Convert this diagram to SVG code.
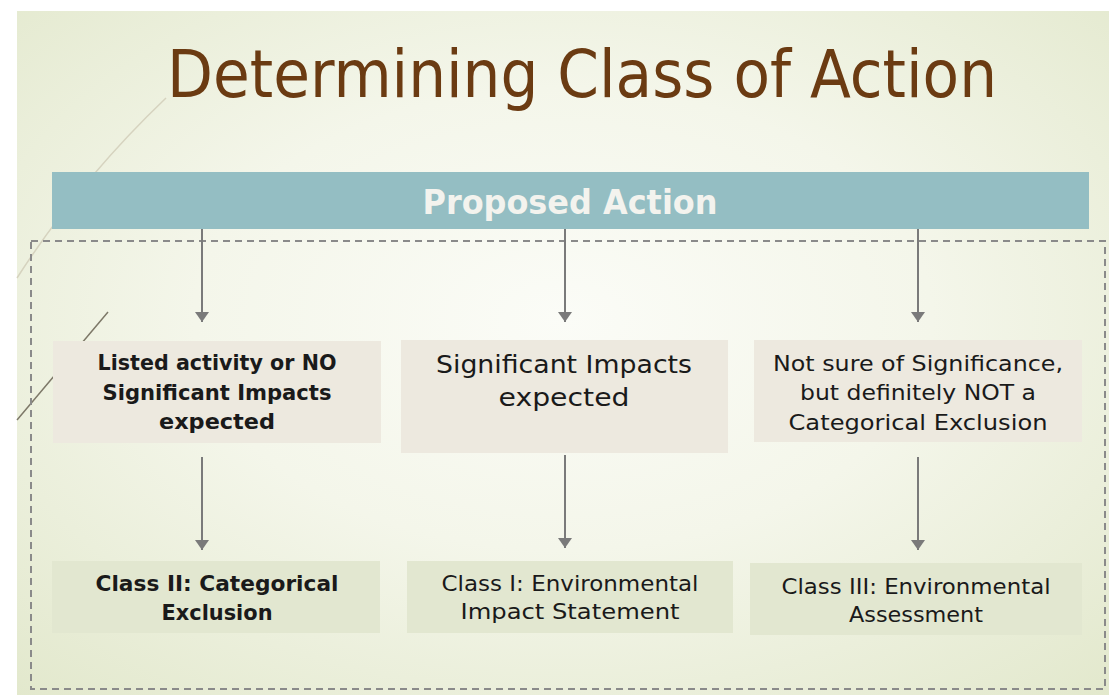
<svg xmlns="http://www.w3.org/2000/svg" width="1109" height="695" viewBox="0 0 1109 695">
  <defs>
    <radialGradient id="bg" cx="0.5" cy="0.45" r="0.75">
      <stop offset="0" stop-color="#fbfcf7"/>
      <stop offset="0.45" stop-color="#f4f6ea"/>
      <stop offset="1" stop-color="#e2e8cc"/>
    </radialGradient>
    <marker id="ah" viewBox="0 0 14 10" refX="7" refY="10" markerWidth="14" markerHeight="10" markerUnits="userSpaceOnUse" orient="auto-start-reverse">
      <path d="M0,0 L14,0 L7,10 Z" fill="#7a7a7a"/>
    </marker>
    <marker id="ad" viewBox="0 0 10 14" refX="10" refY="7" markerWidth="10" markerHeight="14" markerUnits="userSpaceOnUse" orient="auto">
      <path d="M0,0 L10,7 L0,14 Z" fill="#7a7a7a"/>
    </marker>
  </defs>
  <style>
    .t { font-family: "DejaVu Sans", "Liberation Sans", sans-serif; fill: #1a1a1a; text-anchor: middle; }
    .b { font-weight: bold; }
    .mid { fill: #ede9df; }
    .end { fill: #e2e7d0; }
    .conn line { stroke: #7a7a7a; stroke-width: 2; marker-end: url(#ad); }
  </style>
  <rect x="0" y="0" width="1109" height="695" fill="#ffffff"/>
  <rect x="17" y="11" width="1092" height="684" fill="url(#bg)"/>
  <!-- decorative lines -->
  <path d="M166,98 Q80,180 17,278" fill="none" stroke="#d6d3bf" stroke-width="1.5"/>
  <line x1="108" y1="312" x2="17" y2="420" stroke="#7d7868" stroke-width="1.5"/>

  <text x="582" y="97" font-family="DejaVu Sans, Liberation Sans, sans-serif" font-size="66" fill="#6b3b12" text-anchor="middle" textLength="830" lengthAdjust="spacingAndGlyphs">Determining Class of Action</text>

  <rect x="31" y="241" width="1074" height="448" fill="none" stroke="#8a8a8a" stroke-width="2" stroke-dasharray="7,5"/>

  <g id="proposed">
    <rect x="52" y="172" width="1037" height="57" fill="#94bec3"/>
    <text class="t b" x="570" y="214" font-size="33" fill="#f3f3ee" style="fill:#f3f3ee" textLength="295" lengthAdjust="spacingAndGlyphs">Proposed Action</text>
  </g>

  <g id="listed">
    <rect class="mid" x="53" y="341" width="328" height="102"/>
    <text class="t b" font-size="22"><tspan x="217" y="370" textLength="239" lengthAdjust="spacingAndGlyphs">Listed activity or NO</tspan><tspan x="217" y="400" textLength="229" lengthAdjust="spacingAndGlyphs">Significant Impacts</tspan><tspan x="217" y="429" textLength="116" lengthAdjust="spacingAndGlyphs">expected</tspan></text>
  </g>
  <g id="significant">
    <rect class="mid" x="401" y="340" width="327" height="113"/>
    <text class="t" font-size="25"><tspan x="564" y="373" textLength="256" lengthAdjust="spacingAndGlyphs">Significant Impacts</tspan><tspan x="564" y="406" textLength="131" lengthAdjust="spacingAndGlyphs">expected</tspan></text>
  </g>
  <g id="notsure">
    <rect class="mid" x="754" y="340" width="328" height="102"/>
    <text class="t" font-size="22"><tspan x="918" y="371" textLength="290" lengthAdjust="spacingAndGlyphs">Not sure of Significance,</tspan><tspan x="918" y="400" textLength="236" lengthAdjust="spacingAndGlyphs">but definitely NOT a</tspan><tspan x="918" y="430" textLength="259" lengthAdjust="spacingAndGlyphs">Categorical Exclusion</tspan></text>
  </g>

  <g id="class2">
    <rect class="end" x="52" y="561" width="328" height="72"/>
    <text class="t b" font-size="22"><tspan x="217" y="591" textLength="243" lengthAdjust="spacingAndGlyphs">Class II: Categorical</tspan><tspan x="217" y="620" textLength="111" lengthAdjust="spacingAndGlyphs">Exclusion</tspan></text>
  </g>
  <g id="class1">
    <rect class="end" x="407" y="561" width="326" height="72"/>
    <text class="t" font-size="22"><tspan x="570" y="591" textLength="257" lengthAdjust="spacingAndGlyphs">Class I: Environmental</tspan><tspan x="570" y="619" textLength="219" lengthAdjust="spacingAndGlyphs">Impact Statement</tspan></text>
  </g>
  <g id="class3">
    <rect class="end" x="750" y="563" width="332" height="72"/>
    <text class="t" font-size="22"><tspan x="916" y="594" textLength="269" lengthAdjust="spacingAndGlyphs">Class III: Environmental</tspan><tspan x="916" y="622" textLength="134" lengthAdjust="spacingAndGlyphs">Assessment</tspan></text>
  </g>

  <g class="conn" id="connectors">
    <line x1="202" y1="229" x2="202" y2="322"/>
    <line x1="565" y1="229" x2="565" y2="322"/>
    <line x1="918" y1="229" x2="918" y2="322"/>
    <line x1="202" y1="457" x2="202" y2="550"/>
    <line x1="565" y1="455" x2="565" y2="548"/>
    <line x1="918" y1="457" x2="918" y2="550"/>
  </g>
</svg>
